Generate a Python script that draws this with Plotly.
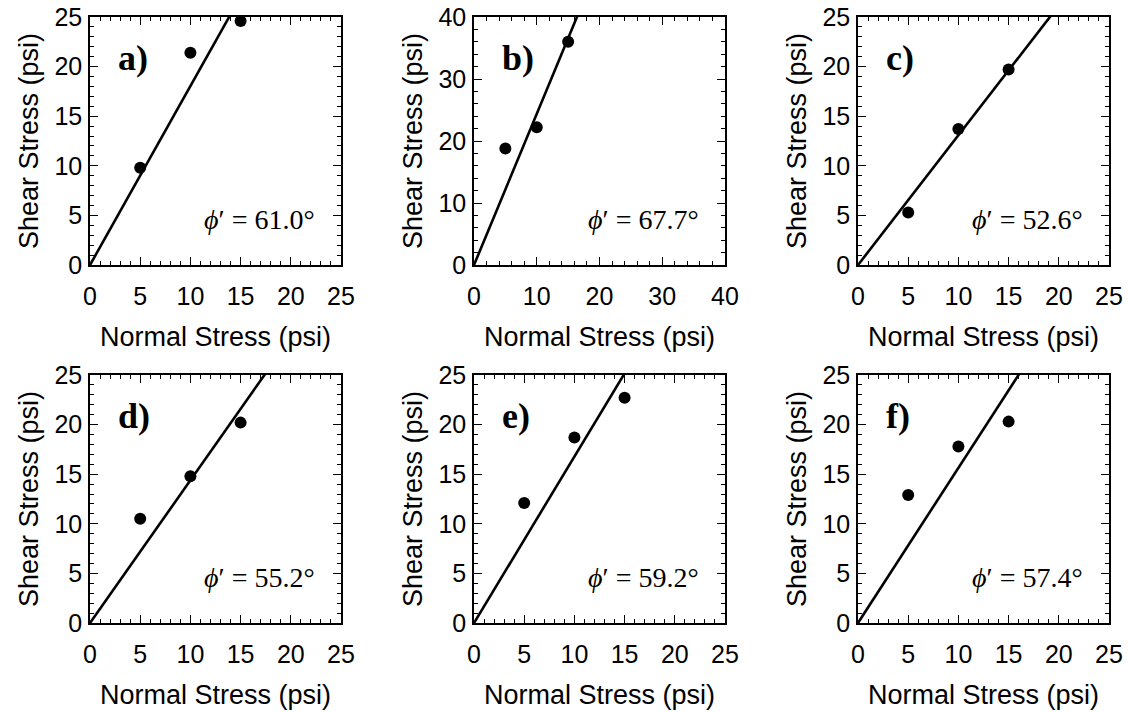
import numpy as np
import plotly.graph_objects as go

# ---- data ----
panel_labels = ["a)", "b)", "c)", "d)", "e)", "f)"]
normal_stress = [5, 10, 15]
shear_a = [9.8, 21.4, 24.6]
shear_b = [18.8, 22.2, 36.0]
shear_c = [5.3, 13.7, 19.7]
shear_d = [10.5, 14.8, 20.2]
shear_e = [12.1, 18.7, 22.7]
shear_f = [12.9, 17.8, 20.3]
phi_deg = [61.0, 67.7, 52.6, 55.2, 59.2, 57.4]
axis_max = [25, 40, 25, 25, 25, 25]
major_step = [5, 10, 5, 5, 5, 5]
minor_step = [1, 2, 1, 1, 1, 1]
shear_all = [shear_a, shear_b, shear_c, shear_d, shear_e, shear_f]

W, H = 1128, 713
col_left = [90, 474, 858]
box_w = 251
row_top = [17, 375]
box_h = 248

TICKFONT = dict(family="Liberation Sans, Arial, sans-serif", size=25, color="black")
TITLEFONT = dict(family="Liberation Sans, Arial, sans-serif", size=27, color="black")

fig = go.Figure()
layout = {}
annotations = []
for i in range(6):
    r, c = divmod(i, 3)
    n = i + 1
    xa = "x" if n == 1 else f"x{n}"
    ya = "y" if n == 1 else f"y{n}"
    xkey = "xaxis" if n == 1 else f"xaxis{n}"
    ykey = "yaxis" if n == 1 else f"yaxis{n}"
    x0 = col_left[c] / W
    x1 = (col_left[c] + box_w) / W
    y1 = 1 - row_top[r] / H
    y0 = 1 - (row_top[r] + box_h) / H
    m = axis_max[i]
    common = dict(
        range=[0, m], showline=True, linecolor="black", linewidth=1.5,
        mirror="ticks", ticks="inside", ticklen=8, tickwidth=1.3, tickcolor="black",
        tick0=0, dtick=major_step[i], showgrid=False, zeroline=False,
        minor=dict(ticks="inside", ticklen=4, dtick=minor_step[i], tick0=0,
                   tickcolor="black", tickwidth=1, showgrid=False),
        tickfont=TICKFONT, fixedrange=True, automargin=False,
        ticklabeloverflow="allow",
    )
    layout[xkey] = dict(common, domain=[x0, x1], anchor=ya,
                        title=dict(text="Normal Stress (psi)", font=TITLEFONT, standoff=18),
                        ticklabelstandoff=8)
    layout[ykey] = dict(common, domain=[y0, y1], anchor=xa,
                        title=dict(text="Shear Stress (psi)", font=TITLEFONT, standoff=8),
                        ticklabelstandoff=1)

    slope = np.tan(np.radians(phi_deg[i]))
    lx = np.array([0.0, m])
    fig.add_trace(go.Scatter(x=lx, y=slope * lx, mode="lines",
                             line=dict(color="black", width=2.6),
                             xaxis=xa, yaxis=ya, showlegend=False, hoverinfo="skip"))
    fig.add_trace(go.Scatter(x=normal_stress, y=shear_all[i], mode="markers",
                             marker=dict(color="black", size=12),
                             cliponaxis=False,
                             xaxis=xa, yaxis=ya, showlegend=False))
    annotations.append(dict(
        text="<b>" + panel_labels[i] + "</b>", xref=f"{xa} domain", yref=f"{ya} domain",
        x=0.105, y=0.835, xanchor="left", yanchor="middle", showarrow=False,
        font=dict(family="Liberation Serif, Times New Roman, serif", size=36, color="black")))
    annotations.append(dict(
        text=f"<i>ϕ</i>′ = {phi_deg[i]:.1f}°", xref=f"{xa} domain", yref=f"{ya} domain",
        x=0.905, y=0.185, xanchor="right", yanchor="middle", showarrow=False,
        font=dict(family="Liberation Serif, Times New Roman, serif", size=28, color="black")))

fig.update_layout(**layout)
fig.update_layout(
    width=W, height=H, margin=dict(l=0, r=0, t=0, b=0),
    paper_bgcolor="white", plot_bgcolor="white",
    annotations=annotations, showlegend=False,
)
# remove the browser's default 8px body margin so the figure fills the window exactly
fig.write_html("out.html", config={"displayModeBar": False},
               post_script="document.body.style.margin='0';document.body.style.overflow='hidden';")
